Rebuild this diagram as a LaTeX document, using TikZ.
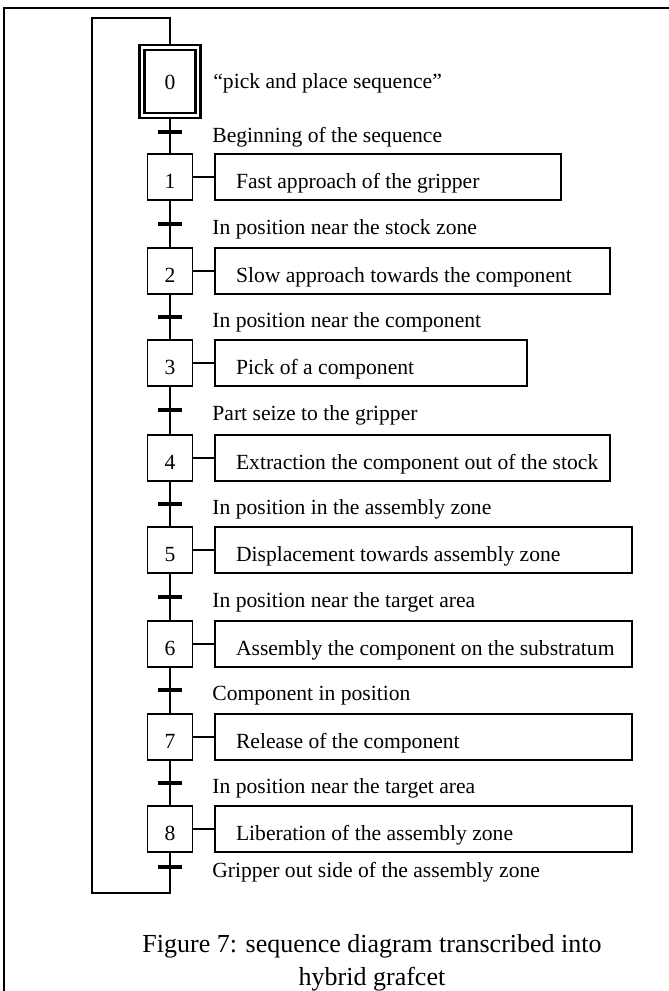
\documentclass[tikz,border=0pt]{standalone}
\usepackage{fontspec}
\setmainfont{Liberation Serif}
% action text: left aligned inside a box of given width
\newcommand\actline[2]{\makebox[#1][l]{\hspace{10.5pt}#2}}
\begin{document}
\begin{tikzpicture}[x=0.5pt,y=-0.5pt,
  every node/.style={font=\fontsize{10.8pt}{13pt}\selectfont},
  link/.style={line width=0.8pt},
  stepbox/.style={draw,line width=0.9pt,outer sep=0pt,inner sep=0pt,
    minimum width=22.5pt,minimum height=23pt,text height=11pt,text depth=0pt},
  initbox/.style={draw,line width=1.3pt,outer sep=0pt,inner sep=0pt,
    minimum width=30.5pt,minimum height=36.5pt,text height=7.5pt,text depth=0pt},
  actbox/.style={draw,line width=0.9pt,outer sep=0pt,inner sep=0pt,
    anchor=west,minimum height=23pt,text height=11pt,text depth=0pt},
  tbar/.style={fill=black,minimum width=12pt,minimum height=2pt,inner sep=0pt,outer sep=0pt},
  tlabel/.style={anchor=base west,inner sep=0pt},
  caption/.style={font=\fontsize{13pt}{17pt}\selectfont,inner sep=0pt,anchor=base}
]
\useasboundingbox (0,0) rectangle (669,991);

% outer frame
\draw[line width=1.1pt] (4,991) -- (4,8) -- (669,8);

% initial step
\node[initbox] (s0) at (170,81.5) {0};
\draw[line width=1.1pt] ([shift={(5,5)}]s0.north west) rectangle ([shift={(-5,-5)}]s0.south east);
\node[tlabel] (c0) at (213,88) {\textquotedblleft pick and place sequence\textquotedblright};

% steps
\node[stepbox] (s1) at (170,177) {1};
\node[stepbox] (s2) at (170,271) {2};
\node[stepbox] (s3) at (170,363) {3};
\node[stepbox] (s4) at (170,458) {4};
\node[stepbox] (s5) at (170,550) {5};
\node[stepbox] (s6) at (170,644) {6};
\node[stepbox] (s7) at (170,737) {7};
\node[stepbox] (s8) at (170,829) {8};

% actions
\node[actbox] (a1) at (215,177) {\actline{173pt}{Fast approach of the gripper}};
\node[actbox] (a2) at (215,271) {\actline{197.5pt}{Slow approach towards the component}};
\node[actbox] (a3) at (215,363) {\actline{156pt}{Pick of a component}};
\node[actbox] (a4) at (215,458) {\actline{197.5pt}{Extraction the component out of the stock}};
\node[actbox] (a5) at (215,550) {\actline{208.5pt}{Displacement towards assembly zone}};
\node[actbox] (a6) at (215,644) {\actline{208.5pt}{Assembly the component on the substratum}};
\node[actbox] (a7) at (215,737) {\actline{208.5pt}{Release of the component}};
\node[actbox] (a8) at (215,829) {\actline{208.5pt}{Liberation of the assembly zone}};

\foreach \i in {1,...,8} \draw[link] (s\i.east) -- (a\i.west);

% transitions
\node[tbar] (t0) at (170,132) {};
\node[tbar] (t1) at (170,224) {};
\node[tbar] (t2) at (170,317) {};
\node[tbar] (t3) at (170,410) {};
\node[tbar] (t4) at (170,504) {};
\node[tbar] (t5) at (170,597) {};
\node[tbar] (t6) at (170,690) {};
\node[tbar] (t7) at (170,783) {};
\node[tbar] (t8) at (170,867) {};

\node[tlabel] (l0) at (212,142) {Beginning of the sequence};
\node[tlabel] (l1) at (212,234) {In position near the stock zone};
\node[tlabel] (l2) at (212,327) {In position near the component};
\node[tlabel] (l3) at (212,420) {Part seize to the gripper};
\node[tlabel] (l4) at (212,514) {In position in the assembly zone};
\node[tlabel] (l5) at (212,607) {In position near the target area};
\node[tlabel] (l6) at (212,700) {Component in position};
\node[tlabel] (l7) at (212,793) {In position near the target area};
\node[tlabel] (l8) at (212,877) {Gripper out side of the assembly zone};

% sequence links
\draw[link] (s0.south) -- (t0.center) -- (s1.north);
\draw[link] (s1.south) -- (t1.center) -- (s2.north);
\draw[link] (s2.south) -- (t2.center) -- (s3.north);
\draw[link] (s3.south) -- (t3.center) -- (s4.north);
\draw[link] (s4.south) -- (t4.center) -- (s5.north);
\draw[link] (s5.south) -- (t5.center) -- (s6.north);
\draw[link] (s6.south) -- (t6.center) -- (s7.north);
\draw[link] (s7.south) -- (t7.center) -- (s8.north);

% return loop to the initial step
\coordinate (lb) at (170,893);
\coordinate (lt) at (92,18);
\draw[link] (s8.south) -- (t8.center) -- (lb) -| (lt) -| (s0.north);

% caption
\node[caption] (cap1) at (372,952) {Figure 7: sequence diagram transcribed into};
\node[caption] (cap2) at (372,985) {hybrid grafcet};
\end{tikzpicture}
\end{document}
